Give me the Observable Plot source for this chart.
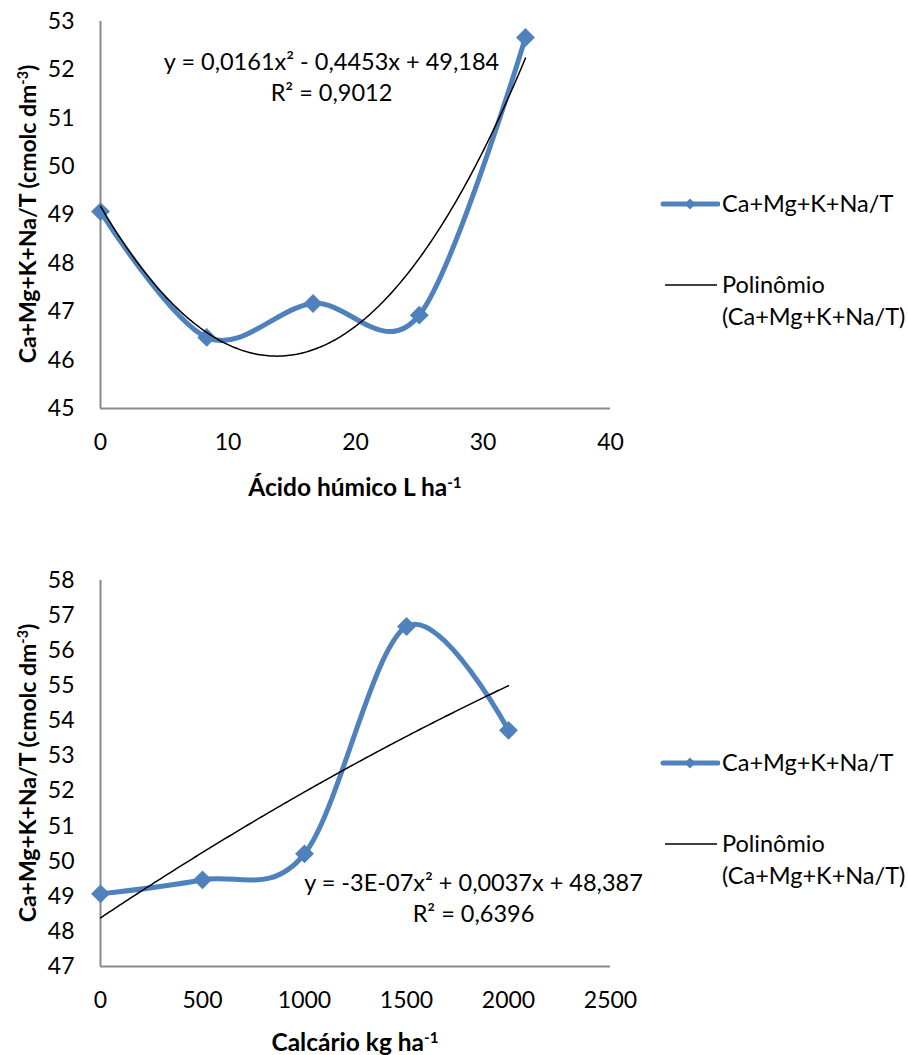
<!DOCTYPE html>
<html><head><meta charset="utf-8">
<script src="https://cdn.jsdelivr.net/npm/d3@7"></script>
<script src="https://cdn.jsdelivr.net/npm/@observablehq/plot@0.6"></script>
<style>
body{margin:0;background:#fff;font-family:Lato,sans-serif;color:#000;}
#wrap{position:relative;width:908px;height:1055px;overflow:hidden;}
.chart{position:absolute;left:0;}
.ytitle{position:absolute;font-weight:bold;font-size:23px;white-space:nowrap;transform:translate(-50%,-50%) rotate(-90deg);}
.xtitle{position:absolute;font-weight:bold;font-size:24.5px;white-space:nowrap;transform:translate(-50%,-50%);}
.sup{font-size:0.62em;position:relative;top:-0.55em;}
.lg{position:absolute;font-size:23.5px;white-space:nowrap;transform:translateY(-50%);line-height:1;}
.lgsym{position:absolute;}
</style></head>
<body><div id="wrap"></div>
<script>
// ---- data ----
const humicDose = [0, 8.33, 16.67, 25, 33.33];
const humicValue = [49.07, 46.47, 47.17, 46.93, 52.67];
const humicXTicks = [0, 10, 20, 30, 40];
const humicYTicks = [45, 46, 47, 48, 49, 50, 51, 52, 53];
const humicEquation = ["y = 0,0161x² - 0,4453x + 49,184", "R² = 0,9012"];
const humicXTitle = ["Ácido húmico L ha", "-1"];

const limeDose = [0, 500, 1000, 1500, 2000];
const limeValue = [49.07, 49.47, 50.21, 56.69, 53.73];
const limeXTicks = [0, 500, 1000, 1500, 2000, 2500];
const limeYTicks = [47, 48, 49, 50, 51, 52, 53, 54, 55, 56, 57, 58];
const limeEquation = ["y = -3E-07x² + 0,0037x + 48,387", "R² = 0,6396"];
const limeXTitle = ["Calcário kg ha", "-1"];

const yTitle = ["Ca+Mg+K+Na/T (cmolc dm", "-3", ")"];
const seriesName = "Ca+Mg+K+Na/T";
const trendName = ["Polinômio", "(Ca+Mg+K+Na/T)"];

const BLUE = "#4F81BD";
const AXIS = "#898989";

// least-squares quadratic fit
function quadFit(xs, ys) {
  const S = k => d3.sum(xs, x => x ** k);
  const T = k => d3.sum(xs, (x, i) => x ** k * ys[i]);
  const A = [[S(0), S(1), S(2)], [S(1), S(2), S(3)], [S(2), S(3), S(4)]];
  const b = [T(0), T(1), T(2)];
  for (let i = 0; i < 3; i++) {
    for (let j = i + 1; j < 3; j++) {
      const f = A[j][i] / A[i][i];
      for (let k = i; k < 3; k++) A[j][k] -= f * A[i][k];
      b[j] -= f * b[i];
    }
  }
  const c = [0, 0, 0];
  for (let i = 2; i >= 0; i--) {
    let s = b[i];
    for (let k = i + 1; k < 3; k++) s -= A[i][k] * c[k];
    c[i] = s / A[i][i];
  }
  return x => c[0] + c[1] * x + c[2] * x * x;
}

function panel(cfg) {
  const pts = cfg.xs.map((x, i) => ({x, y: cfg.ys[i]}));
  const f = quadFit(cfg.xs, cfg.ys);
  const [x0, x1] = d3.extent(cfg.xs);
  const trend = d3.range(0, 201).map(i => { const x = x0 + (x1 - x0) * i / 200; return {x, y: f(x)}; });
  return Plot.plot({
    width: 640, height: cfg.height,
    marginLeft: 100, marginRight: 30, marginTop: 21, marginBottom: cfg.height - cfg.axisBottom,
    style: {fontFamily: "Lato, sans-serif", fontSize: "23px", background: "transparent", overflow: "visible"},
    x: {domain: cfg.xDomain, ticks: cfg.xTicks, tickSize: 0, tickPadding: 25, label: null, tickFormat: d => String(d)},
    y: {domain: cfg.yDomain, ticks: cfg.yTicks, tickSize: 0, tickPadding: 26, label: null, tickFormat: d => String(d)},
    marks: [
      Plot.ruleX([cfg.xDomain[0]], {stroke: AXIS, strokeWidth: 2}),
      Plot.ruleY([cfg.yDomain[0]], {stroke: AXIS, strokeWidth: 2}),
      Plot.line(pts, {x: "x", y: "y", curve: "cardinal", stroke: BLUE, strokeWidth: 5}),
      Plot.dot(pts, {x: "x", y: "y", symbol: "diamond2", r: 8.5, fill: BLUE, stroke: null}),
      Plot.line(trend, {x: "x", y: "y", stroke: "#000", strokeWidth: 1.5}),
      Plot.text([cfg.equation.join("\n")], {frameAnchor: "top-left", dx: cfg.eqDx, dy: cfg.eqDy, text: d => d, textAnchor: "middle", lineAnchor: "middle", lineHeight: 1.34, fontSize: 23.5, fill: "#000"})
    ]
  });
}

const wrap = document.getElementById("wrap");

function addChart(svg, top) {
  svg.classList.add("chart");
  svg.style.top = top + "px";
  wrap.appendChild(svg);
}

addChart(panel({xs: humicDose, ys: humicValue, xDomain: [0, 40], yDomain: [45, 53], xTicks: humicXTicks, yTicks: humicYTicks,
  height: 500, axisBottom: 408, equation: humicEquation, eqDx: 231, eqDy: 54}), 0);
addChart(panel({xs: limeDose, ys: limeValue, xDomain: [0, 2500], yDomain: [47, 58], xTicks: limeXTicks, yTicks: limeYTicks,
  height: 496, axisBottom: 407, equation: limeEquation, eqDx: 373, eqDy: 316}), 559);

function el(tag, cls, css, html) {
  const e = document.createElement(tag);
  if (cls) e.className = cls;
  Object.assign(e.style, css);
  if (html != null) e.innerHTML = html;
  wrap.appendChild(e);
  return e;
}
const supT = (base, s, after = "") => `${base}<span class="sup">${s}</span>${after}`;

// axis titles
el("div", "ytitle", {left: "27px", top: "214px"}, supT(yTitle[0], yTitle[1], yTitle[2]));
el("div", "ytitle", {left: "27px", top: "773px"}, supT(yTitle[0], yTitle[1], yTitle[2]));
el("div", "xtitle", {left: "355px", top: "486px"}, supT(humicXTitle[0], humicXTitle[1]));
el("div", "xtitle", {left: "355px", top: "1041px"}, supT(limeXTitle[0], limeXTitle[1]));

// legends
function legend(top) {
  const s1 = d3.create("svg").attr("width", 60).attr("height", 20).attr("class", "lgsym")
    .style("left", "660px").style("top", (top - 10) + "px");
  s1.append("line").attr("x1", 3).attr("x2", 58).attr("y1", 10).attr("y2", 10).attr("stroke", BLUE).attr("stroke-width", 5).attr("stroke-linecap", "round");
  s1.append("path").attr("d", "M30,4.5L35.5,10L30,15.5L24.5,10Z").attr("fill", BLUE);
  wrap.appendChild(s1.node());
  el("div", "lg", {left: "722px", top: top + "px"}, seriesName);
  const s2 = d3.create("svg").attr("width", 60).attr("height", 20).attr("class", "lgsym")
    .style("left", "660px").style("top", (top + 81 - 10) + "px");
  s2.append("line").attr("x1", 5).attr("x2", 57).attr("y1", 10).attr("y2", 10).attr("stroke", "#000").attr("stroke-width", 1.5);
  wrap.appendChild(s2.node());
  el("div", "lg", {left: "722px", top: (top + 81) + "px"}, trendName[0]);
  el("div", "lg", {left: "722px", top: (top + 113) + "px"}, trendName[1]);
}
legend(204);
legend(763);
</script>
</body></html>
